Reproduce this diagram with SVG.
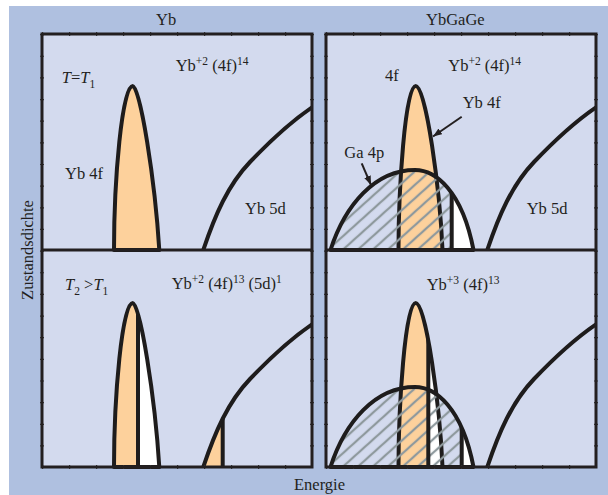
<svg xmlns="http://www.w3.org/2000/svg" width="608" height="495" viewBox="0 0 608 495">
<style>
.t{font-family:"Liberation Serif","Times New Roman",serif;font-size:16.5px;fill:#231f20}
.s{font-size:11.5px}
.i{font-style:italic}
.frame{fill:none;stroke:#231f20;stroke-width:3}
.curve{fill:none;stroke:#1e1c1c;stroke-width:4;stroke-linejoin:round}
.vl{stroke:#1e1c1c;stroke-width:4}
.tickv{fill:none;stroke:#3b3b3b;stroke-width:4;stroke-dasharray:1.2 20.45}
.tickh{fill:none;stroke:#3b3b3b;stroke-width:4;stroke-dasharray:1.2 25.8}
.orange{fill:#fdd19c}
.arrow{stroke:#231f20;stroke-width:2;fill:none;marker-end:url(#ah)}
</style>
<defs>
  <path id="f4L" d="M114,250 C114,180 122,86 132.7,86 C140,86 155,180 159.3,250 Z"/>
  <path id="d5" d="M203.3,250 C215,215 228,185 250,162 C270,141 292,121 312,107.3"/>
  <path id="d5a" d="M203.3,250 C215,215 228,185 250,162 C270,141 292,121 312,107.3 L312,250 Z"/>
  <path id="f4R" d="M398.5,250 C398.5,190 405,86 415.7,86 C426,86 440,190 442.5,250 Z"/>
  <path id="dome" d="M330.5,250 C345,205 375,170 415,170 C435,170 462,190 473.5,250 Z"/>
  <pattern id="hatch" patternUnits="userSpaceOnUse" width="10" height="10" patternTransform="rotate(-42)">
    <line x1="0" y1="5" x2="10" y2="5" stroke="#8e999d" stroke-width="2.3"/>
  </pattern>
  <clipPath id="cF4L"><use href="#f4L"/></clipPath>
  <clipPath id="cF4R"><use href="#f4R"/></clipPath>
  <clipPath id="cD5a"><use href="#d5a"/></clipPath>
  <clipPath id="cDome"><use href="#dome"/></clipPath>
  <clipPath id="pL"><rect x="42" y="34" width="270" height="216"/></clipPath>
  <clipPath id="pR"><rect x="326" y="34" width="270" height="216"/></clipPath>
  <marker id="ah" markerWidth="9" markerHeight="7" refX="9" refY="3.5" orient="auto" markerUnits="userSpaceOnUse">
    <path d="M0,0 L9,3.5 L0,7 Z" fill="#231f20"/>
  </marker>
</defs>

<rect x="9" y="6" width="599" height="489" fill="#afc0e0"/>
<rect x="42" y="34" width="270" height="433" fill="#d3daee"/>
<rect x="326" y="34" width="270" height="433" fill="#d3daee"/>

<!-- Yb, T = T1 -->
<g id="yb-t1">
  <use href="#f4L" class="orange"/>
  <use href="#f4L" class="curve"/>
  <g clip-path="url(#pL)"><use href="#d5" class="curve"/></g>
</g>

<!-- Yb, T2 > T1 -->
<g id="yb-t2" transform="translate(0,217)">
  <g clip-path="url(#cF4L)">
    <rect x="100" y="80" width="38" height="175" class="orange"/>
    <rect x="138" y="80" width="30" height="175" fill="#ffffff"/>
    <line x1="138" y1="80" x2="138" y2="252" class="vl"/>
  </g>
  <use href="#f4L" class="curve"/>
  <g clip-path="url(#cD5a)">
    <rect x="200" y="150" width="22.7" height="105" class="orange"/>
    <line x1="222.7" y1="150" x2="222.7" y2="252" class="vl"/>
  </g>
  <g clip-path="url(#pL)"><use href="#d5" class="curve"/></g>
</g>

<!-- YbGaGe, T = T1 -->
<g id="ybgage-t1">
  <use href="#f4R" class="orange"/>
  <use href="#f4R" class="curve"/>
  <g clip-path="url(#cDome)">
    <rect x="451.7" y="160" width="30" height="95" fill="#ffffff"/>
    <rect x="325" y="160" width="126.7" height="95" fill="url(#hatch)"/>
    <line x1="451.7" y1="160" x2="451.7" y2="252" class="vl"/>
  </g>
  <use href="#dome" class="curve"/>
  <g clip-path="url(#pR)"><use href="#d5" class="curve" transform="translate(284,0)"/></g>
</g>

<!-- YbGaGe, T2 > T1 -->
<g id="ybgage-t2" transform="translate(0,217)">
  <g clip-path="url(#cF4R)">
    <rect x="395" y="80" width="33.3" height="175" class="orange"/>
    <rect x="428.3" y="80" width="20" height="175" fill="#ffffff"/>
  </g>
  <use href="#f4R" class="curve"/>
  <g clip-path="url(#cDome)">
    <rect x="461.7" y="160" width="20" height="95" fill="#ffffff"/>
    <rect x="325" y="160" width="136.7" height="95" fill="url(#hatch)"/>
    <line x1="461.7" y1="160" x2="461.7" y2="252" class="vl"/>
  </g>
  <g clip-path="url(#cF4R)">
    <line x1="428.3" y1="80" x2="428.3" y2="252" class="vl"/>
  </g>
  <use href="#dome" class="curve"/>
  <g clip-path="url(#pR)"><use href="#d5" class="curve" transform="translate(284,0)"/></g>
</g>

<!-- frames and ticks -->
<g id="frames">
  <line x1="42" y1="34" x2="42" y2="467" class="tickv"/>
  <line x1="312" y1="34" x2="312" y2="467" class="tickv"/>
  <line x1="326" y1="34" x2="326" y2="467" class="tickv"/>
  <line x1="596" y1="34" x2="596" y2="467" class="tickv"/>
  <line x1="42" y1="34" x2="312" y2="34" class="tickh"/>
  <line x1="42" y1="467" x2="312" y2="467" class="tickh"/>
  <line x1="326" y1="34" x2="596" y2="34" class="tickh"/>
  <line x1="326" y1="467" x2="596" y2="467" class="tickh"/>
  <rect x="42" y="34" width="270" height="433" class="frame"/>
  <line x1="42" y1="250" x2="312" y2="250" class="frame"/>
  <rect x="326" y="34" width="270" height="433" class="frame"/>
  <line x1="326" y1="250" x2="596" y2="250" class="frame"/>
</g>

<!-- connectors -->
<g id="connectors">
  <line x1="361.7" y1="163.3" x2="371" y2="185" class="arrow"/>
  <line x1="461.7" y1="116.7" x2="433" y2="136.5" class="arrow"/>
</g>

<!-- labels -->
<g id="labels">
  <text class="t" x="156" y="25">Yb</text>
  <text class="t" x="426" y="25">YbGaGe</text>
  <text class="t" x="61.7" y="83.3"><tspan class="i">T</tspan>=<tspan class="i">T</tspan><tspan class="s" dy="5">1</tspan></text>
  <text class="t" x="175.7" y="71">Yb<tspan class="s" dy="-6">+2</tspan><tspan dy="6"> (4f)</tspan><tspan class="s" dy="-6">14</tspan></text>
  <text class="t" x="65" y="179.3">Yb 4f</text>
  <text class="t" x="245" y="214.3">Yb 5d</text>
  <text class="t" x="65" y="290"><tspan class="i">T</tspan><tspan class="s" dy="5">2</tspan><tspan dy="-5"> &gt;</tspan><tspan class="i">T</tspan><tspan class="s" dy="5">1</tspan></text>
  <text class="t" x="171.7" y="289.3">Yb<tspan class="s" dy="-6">+2</tspan><tspan dy="6"> (4f)</tspan><tspan class="s" dy="-6">13</tspan><tspan dy="6"> (5d)</tspan><tspan class="s" dy="-6">1</tspan></text>
  <text class="t" x="385" y="81">4f</text>
  <text class="t" x="448.3" y="71">Yb<tspan class="s" dy="-6">+2</tspan><tspan dy="6"> (4f)</tspan><tspan class="s" dy="-6">14</tspan></text>
  <text class="t" x="462.7" y="108.3">Yb 4f</text>
  <text class="t" x="344.3" y="158.3">Ga 4p</text>
  <text class="t" x="526.7" y="214.3">Yb 5d</text>
  <text class="t" x="426.7" y="290">Yb<tspan class="s" dy="-6">+3</tspan><tspan dy="6"> (4f)</tspan><tspan class="s" dy="-6">13</tspan></text>
  <text class="t" x="294" y="490">Energie</text>
  <text class="t" text-anchor="middle" transform="translate(33,250) rotate(-90)">Zustandsdichte</text>
</g>
</svg>
